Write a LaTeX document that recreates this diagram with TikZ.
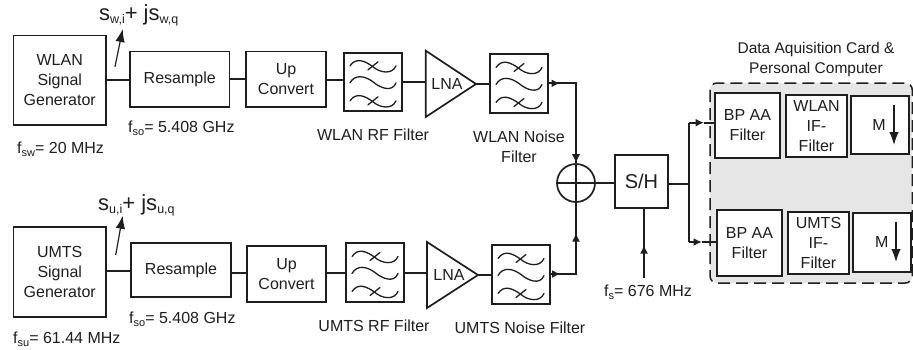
\documentclass[tikz,border=0pt]{standalone}
\usepackage{fontspec}
\setmainfont{Liberation Sans}
\usetikzlibrary{arrows.meta}
\definecolor{ink}{HTML}{1E1E1E}
\definecolor{panel}{HTML}{E6E6E6}
\newcommand{\lowsub}[1]{\raisebox{-3pt}{\fontsize{11}{11}\selectfont #1}}
\newcommand{\bigsub}[1]{\raisebox{-3pt}{\fontsize{12.5}{12.5}\selectfont #1}}
\tikzset{
  ln/.style={draw=ink,line width=1.7pt},
  blockbox/.style={ln,inner sep=0pt,align=center,text=ink,font=\fontsize{16}{20}\selectfont},
  lbl/.style={inner sep=0pt,text=ink,font=\fontsize{16}{20}\selectfont},
  bigt/.style={inner sep=0pt,text=ink,font=\fontsize{22}{24}\selectfont},
  smallhead/.style={-{Latex[length=8.5pt,width=8pt]}},
  bighead/.style={-{Latex[length=13pt,width=9.5pt]}},
  wave/.style={draw=ink,line width=1.3pt,line cap=round},
  fw/.pic={
    \foreach \yy in {-17,18}{
      \draw[wave] (-23,\yy+1) .. controls (-17,\yy-8) and (-8,\yy-4) .. (0,\yy+2) .. controls (7,\yy+8) and (19,\yy+10) .. (23,\yy+1);
      \draw[wave] (-5,\yy+5) -- (5,\yy-3);
    }
    \draw[wave] (-23,1) .. controls (-18,-8) and (-8,-6) .. (0,0) .. controls (7,6) and (19,11) .. (23,1);
  }
}
\begin{document}
\begin{tikzpicture}[x=1pt,y=-1pt]
\useasboundingbox (0,0) rectangle (913,349);
% panel
\path[fill=panel,rounded corners=7pt] (710,83) rectangle (912.3,283);
\draw[ink,line width=1.5pt,dash pattern=on 12pt off 6pt,rounded corners=7pt] (710,83) rectangle (912.3,283);
% blocks
\newcommand{\blk}[6]{\node[blockbox,minimum width=#4pt-#2pt,minimum height=#5pt-#3pt] (#1) at ({(#2+#4)/2},{(#3+#5)/2}) {#6};}
\blk{gw}{13.5}{35.5}{106}{125}{WLAN\\Signal\\Generator}
\blk{rw}{130}{51.5}{229.5}{107}{Resample}
\blk{uw}{246}{51.5}{326}{107}{Up\\Convert}
\blk{fw1}{344}{52.7}{402}{111}{}
\blk{fw2}{490}{54.3}{548}{112.7}{}
\blk{gu}{13.5}{227}{106}{317}{UMTS\\Signal\\Generator}
\blk{ru}{131}{243}{231}{297}{Resample}
\blk{uu}{247}{246}{326}{302}{Up\\Convert}
\blk{fu1}{346}{243}{404}{302}{}
\blk{fu2}{492}{245}{550}{304}{}
\blk{sh}{615}{155}{668}{208}{\fontsize{20}{22}\selectfont S/H}
\blk{bw}{716}{94}{779}{157}{}
\blk{iw}{787}{96}{846}{156}{}
\blk{mw}{852}{97}{908}{153}{}
\blk{bu}{718}{211}{781}{275}{}
\blk{iu}{789}{213}{848}{273}{}
\blk{mu}{854}{214}{910}{271}{}
\foreach \n in {bw,iw,mw,bu,iu,mu}{\fill[white] (\n.south west) rectangle (\n.north east);\draw[ln] (\n.south west) rectangle (\n.north east);}
\node[blockbox,draw=none,minimum size=0pt] at (bw) {BP AA\\Filter};
\node[blockbox,draw=none,minimum size=0pt] at (iw) {WLAN\\IF-\\Filter};
\node[blockbox,draw=none,minimum size=0pt] at (bu) {BP AA\\Filter};
\node[blockbox,draw=none,minimum size=0pt] at (iu) {UMTS\\IF-\\Filter};
\foreach \n in {fw1,fw2,fu1,fu2}{\pic at (\n) {fw};}
% LNA
\draw[ln,line join=miter] (425.7,50.7) -- (476,84) coordinate (lw) -- (425.7,117) -- cycle;
\coordinate (lwi) at (425.7,84);
\draw[ln,line join=miter] (427,242) -- (478,275) coordinate (lu) -- (427,308) -- cycle;
\coordinate (lui) at (427,275);
\node[lbl] (lnaw) at (447,84) {LNA};
\node[lbl] (lnau) at (449,275) {LNA};
% summer
\node[ln,circle,minimum size=38pt,inner sep=0pt] (sum) at (576,183) {};
\draw[ln] (sum.north) -- (sum.south) (sum.west) -- (sum.east);
% straight connectors
\draw[ln] (gw.east) -- (gw.east -| rw.west);
\draw[ln] (rw.east) -- (rw.east -| uw.west);
\draw[ln] (uw.east |- 0,80) -- (fw1.west |- 0,80);
\draw[ln] (fw1.east |- 0,82) -- (lwi |- 0,82);
\draw[ln] (lw) -- (lw -| fw2.west);
\draw[ln] (gu.east |- 0,271) -- (ru.west |- 0,271);
\draw[ln] (ru.east |- 0,273) -- (uu.west |- 0,273);
\draw[ln] (uu.east |- 0,273) -- (fu1.west |- 0,273);
\draw[ln] (fu1.east |- 0,273) -- (lui |- 0,273);
\draw[ln] (lu) -- (lu -| fu2.west);
% outputs to summer
\coordinate (wcorner) at (sum.north |- 0,83.3);
\coordinate (ucorner) at (sum.south |- 0,274);
\coordinate (wmid) at (560,83.3);
\coordinate (umid) at (560.5,274);
\coordinate (umid2) at (576,233);
\draw[ln] (fw2.east |- wcorner) -- (wcorner) -- (sum.north);
\draw[ln] (fu2.east |- ucorner) -- (ucorner) -- (sum.south);
\draw[ln,smallhead] (fw2.east |- wcorner) -- (wmid);
\draw[ln,smallhead] (fu2.east |- ucorner) -- (umid);
\draw[ln,-{Latex[length=9pt,width=8.5pt]}] (wcorner) -- (sum.north);
\draw[ln,smallhead] (ucorner) -- (umid2);
% S/H output
\coordinate (split) at (689,184);
\coordinate (sa) at (689,122.7);
\coordinate (sb) at (689,242);
\coordinate (ma) at (704,122.7);
\coordinate (mb) at (702,242);
\draw[ln] (sum.east) -- (sum.east -| sh.west);
\draw[ln] (sh.east |- split) -- (split);
\draw[ln] (sa) -- (sb);
\draw[ln,smallhead] (sa) -- (ma);
\draw[ln,smallhead] (sb) -- (mb);
\draw[ln] (ma) -- (bw.west |- ma);
\draw[ln] (mb) -- (bu.west |- mb);
% clock
\coordinate (clk) at (644,278);
\coordinate (clkm) at (644,245);
\draw[ln] (clk) -- (clk |- sh.south);
\draw[ln,smallhead] (clk) -- (clkm);
% signal arrows
\coordinate (sw0) at (115,66.7); \coordinate (sw1) at (122.7,29);
\coordinate (su0) at (115.7,255); \coordinate (su1) at (122.7,215.7);
\draw[ink,line width=1.2pt,bighead] (sw0) -- (sw1);
\draw[ink,line width=1.2pt,bighead] (su0) -- (su1);
% decimators
\node[lbl] (mw1) at (879,124.5) {M};
\node[lbl] (mu1) at (881.7,241.5) {M};
\coordinate (da) at (894,105); \coordinate (db) at (894,145);
\coordinate (dc) at (896,222); \coordinate (dd) at (896,262);
\draw[ink,line width=1.3pt,bighead] (da) -- (db);
\draw[ink,line width=1.3pt,bighead] (dc) -- (dd);
% labels
\node[bigt,anchor=base west] (t1) at (99,20.5) {s\bigsub{w,i}+ js\bigsub{w,q}};
\node[bigt,anchor=base west] (t2) at (98,210.5) {s\bigsub{u,i}+ js\bigsub{u,q}};
\node[lbl,anchor=base west] (t3) at (17,153) {f\lowsub{sw}= 20 MHz};
\node[lbl,anchor=base west] (t4) at (128,132) {f\lowsub{so}= 5.408 GHz};
\node[lbl,anchor=base west] (t5) at (129,323) {f\lowsub{so}= 5.408 GHz};
\node[lbl,anchor=base west] (t6) at (13,343) {f\lowsub{su}= 61.44 MHz};
\node[lbl,anchor=base] (t7) at (373,140) {WLAN RF Filter};
\node[lbl,anchor=base,align=center] (t8) at (519,162) {WLAN Noise\\Filter};
\node[lbl,anchor=base] (t9) at (374,331) {UMTS RF Filter};
\node[lbl,anchor=base] (t10) at (520,333) {UMTS Noise Filter};
\node[lbl,anchor=base west] (t11) at (604,296) {f\lowsub{s}= 676 MHz};
\node[lbl,anchor=base,align=center,font=\fontsize{15.5}{20}\selectfont] (t12) at (816,73) {Data Aquisition Card \&\\Personal Computer};
\end{tikzpicture}
\end{document}
